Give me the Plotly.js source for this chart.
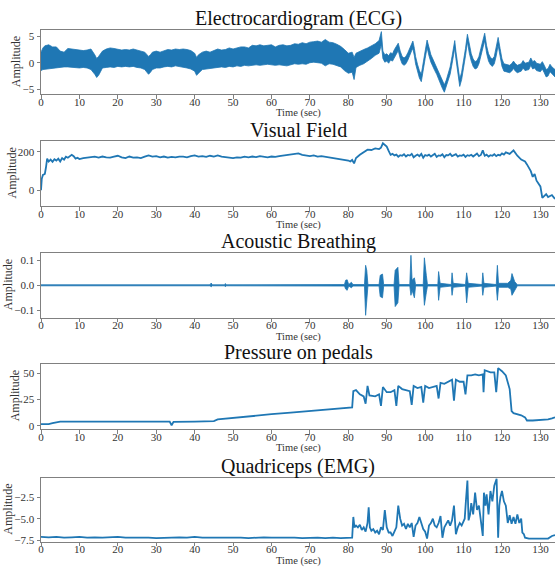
<!DOCTYPE html>
<html>
<head>
<meta charset="utf-8">
<script src="https://cdn.plot.ly/plotly-3.0.1.min.js"></script>
<style>html,body{margin:0;padding:0;background:#fff;}#chart{width:555px;height:567px;}</style>
</head>
<body>
<div id="chart"></div>
<script>
// ---------- DATA ----------
const panelTitles = ["Electrocardiogram (ECG)", "Visual Field", "Acoustic Breathing", "Pressure on pedals", "Quadriceps (EMG)"];
const xLabel = "Time (sec)";
const yLabel = "Amplitude";
const xTickVals = [0,10,20,30,40,50,60,70,80,90,100,110,120,130];

// ECG: upper / lower envelope of the dense trace
const ecgT  = [0,0.5,1,2,3,4,5,6,7,8,9,10,11,12,13,14,14.5,15,16,17,18,19,20,21,22,23,24,25,26,27,28,28.5,29,30,31,32,33,34,35,36,37,38,39,40,40.5,41,42,43,44,45,46,47,48,49,50,51,52,53,54,55,56,57,58,59,60,61,62,63,64,65,66,67,68,69,70,71,72,73,74,75,76,77,78,79,80,81,81.5,82,83,84,85,86,87,88,88.6,89,89.5,90,90.5,91,91.5,92,92.5,93,93.5,94,94.5,95,95.5,96,96.5,96.8,97.2,97.5,98,98.5,99,99.5,100,100.5,101,101.5,102,102.5,103,103.5,104,104.5,105,105.5,106,106.5,107,107.5,107.7,108,108.5,109,109.5,110,110.5,111,111.5,112,112.5,113,113.5,114,114.5,115,115.5,116,116.5,117,117.5,118,118.5,119,119.5,120,120.5,121,122,122.5,123,123.5,124,125,125.5,126,127,127.5,128,128.5,129,130,130.5,131,131.5,132,132.5,133,133.8];
const ecgHi = [2.0,2.8,3.2,3.4,3.0,3.0,2.2,2.0,2.7,2.6,2.5,2.3,2.3,2.4,2.6,1.5,0.8,1.2,2.2,2.6,2.8,2.7,2.5,2.4,2.5,2.4,2.6,2.4,2.2,2.0,1.2,1.5,2.0,2.2,2.0,2.3,2.5,2.4,2.6,2.5,2.6,2.5,2.3,1.8,1.0,1.5,2.0,2.2,2.0,2.3,2.6,2.4,2.5,2.8,2.6,2.8,3.0,3.0,2.8,3.3,3.2,3.4,3.2,3.3,3.4,3.0,3.3,3.4,3.2,3.3,3.6,3.5,3.8,3.6,3.9,4.0,4.1,3.9,4.4,3.9,3.8,3.5,3.1,2.5,1.8,2.0,1.0,1.8,2.2,2.5,2.8,3.2,3.6,4.2,5.9,2.2,1.5,1.7,1.3,1.9,1.7,2.5,3.1,3.7,2.2,1.2,0.9,1.2,1.9,2.7,3.7,4.1,2.7,1.2,-0.3,-1.5,-2.2,-0.3,2.2,4.3,2.7,1.5,0.7,-0.1,-0.8,-1.6,-2.5,-3.5,-4.2,-3.3,-2.1,-0.8,1.2,3.2,4.2,2.2,-0.8,-3.1,-1.8,0.2,2.7,5.4,3.2,1.7,0.7,0.2,0.4,1.2,2.7,4.2,5.6,3.2,1.7,1.0,0.7,1.2,2.7,4.8,2.7,0.7,-0.2,-0.3,-0.5,-0.2,0.3,-0.2,-0.5,-0.2,0.4,-0.1,0.1,0.9,0.2,0.4,-0.1,-0.3,0.2,-0.5,-1.3,-1.1,-0.3,-0.8,-1.3];
const ecgLo = [-1.5,-1.3,-1.2,-1.1,-1.0,-1.0,-0.9,-0.8,-0.8,-0.9,-0.9,-1.0,-0.9,-1.0,-1.3,-2.2,-2.8,-2.4,-1.0,-0.9,-0.8,-0.9,-0.7,-0.8,-0.7,-0.8,-0.7,-0.9,-1.0,-1.3,-2.2,-1.8,-1.3,-1.0,-1.0,-0.8,-0.7,-0.8,-0.6,-0.8,-0.9,-1.0,-1.2,-1.6,-2.4,-2.0,-1.3,-1.2,-1.2,-1.0,-0.9,-0.8,-0.9,-0.7,-0.8,-0.6,-0.7,-0.5,-0.6,-0.5,-0.4,-0.5,-0.4,-0.3,-0.4,-0.5,-0.4,-0.5,-0.6,-0.4,-0.2,-0.3,-0.2,-0.3,0.0,0.1,0.0,-0.1,-0.6,-0.2,-0.3,-0.5,-0.8,-1.5,-2.0,-1.8,-3.2,-0.9,-0.5,-0.2,0.3,0.8,1.4,1.8,3.5,0.8,0.1,0.3,-0.1,0.5,0.3,1.1,1.7,2.3,0.8,-0.2,-0.5,-0.2,0.5,1.3,2.3,2.7,1.3,-0.2,-1.7,-2.9,-3.6,-1.7,0.8,2.9,1.3,0.1,-0.7,-1.5,-2.2,-3.0,-3.9,-4.9,-5.6,-4.7,-3.5,-2.2,-0.2,1.8,2.8,0.8,-2.2,-4.5,-3.2,-1.2,1.3,4.0,1.8,0.3,-0.7,-1.2,-1.0,-0.2,1.3,2.8,4.2,1.8,0.3,-0.4,-0.7,-0.2,1.3,3.3,1.3,-0.7,-1.6,-1.7,-1.9,-1.6,-1.1,-1.6,-1.9,-1.6,-1.0,-1.5,-1.3,-0.5,-1.2,-1.0,-1.5,-1.7,-1.2,-1.9,-2.7,-2.5,-1.7,-2.2,-2.7];

// Visual field
const vfT = [0,0.2,0.5,1,1.3,1.6,2,2.5,3,3.5,4,4.5,5,5.5,6,6.5,7,7.5,8,8.5,9,9.5,10,11,12,13,14,15,16,17,18,19,20,21,22,23,24,25,26,27,28,29,30,31,32,33,34,35,36,37,38,39,40,41,42,43,44,45,46,47,48,49,50,51,52,53,54,55,56,57,58,59,60,61,62,63,64,65,66,67,68,69,70,71,72,73,74,75,76,77,78,79,80,80.5,81,81.5,82,83,84,85,86,87,88,88.5,89,89.5,90,90.5,91,91.5,92,92.5,93,93.5,94,94.5,95,95.5,96,96.5,97,97.5,98,98.5,99,99.5,100,100.5,101,101.5,102,102.5,103,103.5,104,104.5,105,105.5,106,106.5,107,107.5,108,108.5,109,109.5,110,110.5,111,111.5,112,112.5,113,113.5,114,114.5,115,115.5,116,116.5,117,117.5,118,118.5,119,119.5,120,120.5,121,122,123,124,125,126,126.5,127,127.5,128,128.5,129,130,130.5,131,131.5,132,132.5,133,133.8];
const vfY = [0,60,80,85,120,165,150,160,148,162,155,165,150,168,160,175,170,180,185,178,165,170,163,168,170,172,175,170,176,172,170,175,180,172,168,176,170,172,168,175,182,176,178,172,176,170,174,172,176,175,172,178,182,176,178,174,180,176,182,175,172,170,168,172,170,175,172,176,173,178,175,172,176,174,178,180,182,185,188,192,185,183,178,182,176,178,175,172,168,166,162,158,155,150,158,140,168,185,200,212,210,218,215,222,245,238,228,205,185,190,182,186,175,183,180,188,176,184,181,190,172,180,186,178,190,170,184,180,186,176,183,190,174,182,180,188,172,184,182,190,178,185,188,176,182,180,186,174,183,180,185,176,182,192,178,184,208,180,186,176,183,180,188,178,185,182,192,186,198,190,208,180,160,150,135,120,100,70,85,50,20,-40,-30,-20,-35,-30,-25,-45,-70,-75,-75];

// Acoustic breathing: upper / lower envelope
const acT  = [0,44.0,44.3,44.6,47.8,48.0,48.2,79.0,79.3,79.7,80.1,80.8,81.2,84.2,84.5,84.8,85.1,88.0,88.3,88.9,89.2,91.9,92.2,92.9,93.2,96.0,96.3,96.6,97.2,97.5,99.5,99.8,100.3,100.6,103.3,103.5,103.9,106.8,107.0,107.3,110.5,110.8,111.2,114.8,115.0,115.3,118.5,118.8,119.1,121.5,122.3,122.6,123.3,124.0,133.8];
const acHi = [0.002,0.002,0.009,0.002,0.002,0.007,0.002,0.003,0.020,0.022,0.003,0.012,0.003,0.003,0.080,0.060,0.003,0.003,0.040,0.045,0.003,0.003,0.060,0.072,0.003,0.003,0.120,0.020,0.030,0.003,0.003,0.110,0.040,0.003,0.003,0.055,0.008,0.003,0.050,0.008,0.003,0.050,0.008,0.003,0.050,0.008,0.003,0.080,0.008,0.008,0.020,0.047,0.015,0.002,0.002];
const acLo = [-0.002,-0.002,-0.006,-0.002,-0.002,-0.006,-0.002,-0.003,-0.015,-0.020,-0.003,-0.010,-0.003,-0.003,-0.120,-0.060,-0.003,-0.003,-0.045,-0.050,-0.003,-0.003,-0.085,-0.070,-0.003,-0.003,-0.040,-0.020,-0.050,-0.003,-0.003,-0.080,-0.030,-0.003,-0.003,-0.060,-0.008,-0.003,-0.040,-0.008,-0.003,-0.070,-0.008,-0.003,-0.040,-0.008,-0.003,-0.060,-0.008,-0.008,-0.015,-0.040,-0.020,-0.002,-0.002];

// Pressure on pedals
const prT = [0,2,3,4,5,10,20,30,33.5,34,34.5,40,45,46,50,55,60,65,70,75,80,81,81.3,82,83,84,84.5,85,85.5,87,88,88.5,89,90,91,92,92.5,93,94,95,96,96.5,97,98,99,99.5,100,101,102,103,103.5,104,105,106,107,107.5,108,109,110,110.5,111,112,113,114,115,115.2,115.5,117,118,118.5,119,120,121,122,122.5,123,124,125,126,126.5,128,130,132,133,133.8];
const prY = [1.5,1.5,2.5,3.5,4,4,4,4,4,0.5,3.8,4,4.5,6,7.5,9.5,11,12.5,14,15.5,17,17.5,33,34,30,28,21,38,29,28,30,19,37,32,32,34,19,38,35,34,33,20,38,36,37,22,38,36,37,38,26,41,40,42,44,24,44,42,42,30,48,48,49,48,49,32,53,51,51,32,55,52,48,35,14,12,11,10,8,5,5,5.5,6,7,8];

// Quadriceps EMG
const emgT = [0,2,4,6,8,10,12,14,16,18,20,22,24,26,28,30,32,34,36,38,40,42,44,46,48,50,52,54,56,58,60,62,64,66,68,70,72,74,76,78,80,81,81.3,81.6,82,82.5,83,83.5,84,84.5,85,85.3,85.6,86,86.5,87,87.5,88,88.5,89,89.5,90,90.5,91,91.5,92,92.5,93,93.5,94,94.5,95,95.5,96,96.5,97,97.5,98,98.5,99,99.5,100,100.5,101,101.5,102,102.5,103,103.5,104,104.5,105,105.5,106,106.5,107,107.5,108,108.5,109,109.5,110,110.3,110.6,111,111.3,111.7,112,112.5,113,113.5,114,114.5,115,115.3,115.7,116,116.5,117,117.5,118,118.3,118.6,119,119.3,119.6,120,120.5,121,121.5,122,122.5,123,123.5,124,124.5,125,125.3,125.7,126,127,128,129,130,131,132,133,133.8];
const emgY = [-7.1,-7.15,-7.1,-7.2,-7.15,-7.1,-7.2,-7.15,-7.2,-7.15,-7.1,-7.2,-7.2,-7.15,-7.2,-7.25,-7.2,-7.2,-7.15,-7.2,-7.1,-7.2,-7.2,-7.15,-7.2,-7.15,-7.2,-7.25,-7.2,-7.15,-7.2,-7.2,-7.15,-7.2,-7.25,-7.2,-7.2,-7.25,-7.2,-7.25,-7.2,-7.2,-4.8,-6.0,-5.8,-6.0,-5.7,-6.3,-6.0,-6.5,-5.5,-3.7,-6.0,-6.4,-6.2,-6.6,-6.4,-6.8,-6.0,-6.3,-4.0,-6.0,-6.6,-6.6,-7.0,-6.5,-6.0,-3.5,-5.0,-5.8,-5.6,-6.2,-5.6,-6.0,-5.5,-7.1,-5.8,-5.5,-4.8,-5.5,-6.2,-6.5,-7.3,-5.8,-5.5,-5.0,-5.8,-6.0,-5.5,-4.7,-7.2,-6.0,-5.5,-5.2,-5.8,-5.2,-3.5,-6.8,-6.0,-5.5,-5.8,-5.2,-5.0,-3.0,-0.6,-5.2,-4.5,-3.2,-4.5,-2.0,-4.0,-3.5,-5.5,-7.0,-2.0,-3.5,-2.2,-4.5,-1.8,-3.0,-1.2,-0.6,-0.4,-7.2,-3.5,-2.5,-1.8,-3.0,-3.5,-5.5,-4.6,-5.6,-4.8,-5.6,-4.5,-5.5,-5.0,-6.6,-6.8,-7.2,-7.3,-7.3,-7.3,-7.35,-7.3,-7.3,-7.0,-6.9];

// y-axis ticks per panel
const yTickVals = [[-5,0,5],[0,200],[-0.1,0,0.1],[0,25,50],[-7.5,-5,-2.5]];
const yTickText = [["\u22125","0","5"],["0","200"],["\u22120.1","0.0","0.1"],["0","25","50"],["\u22127.5","\u22125.0","\u22122.5"]];
const yRanges = [[-5.94,6.15],[-82,257],[-0.1296,0.1305],[-3.1,59.2],[-7.66,-0.27]];

// ---------- CHART ----------
const W = 555, H = 567;
const C = '#1f77b4';
const FONT = "'Liberation Serif', 'DejaVu Serif', serif";
const TXT = '#333';
const panelPx = [[30.3,94],[141,206],[252.7,317.7],[363.7,429],[477.7,541.7]];
const yLabelX = [16, 11, 8, 15, 8];
const xDomain = [41/W, 1];
const xRange = [0, 133.8];

function band(t, hi, lo) {
  return { x: t.concat(t.slice().reverse()), y: hi.concat(lo.slice().reverse()) };
}
const ecgB = band(ecgT, ecgHi, ecgLo);
const acB = band(acT, acHi, acLo);

const traces = [
  {x: ecgB.x, y: ecgB.y, fill: 'toself', fillcolor: C, line: {color: C, width: 0.8}, mode: 'lines', xaxis: 'x', yaxis: 'y', hoverinfo: 'skip'},
  {x: vfT, y: vfY, mode: 'lines', line: {color: C, width: 1.8}, xaxis: 'x2', yaxis: 'y2'},
  {x: acB.x, y: acB.y, fill: 'toself', fillcolor: C, line: {color: C, width: 0.8}, mode: 'lines', xaxis: 'x3', yaxis: 'y3', hoverinfo: 'skip'},
  {x: prT, y: prY, mode: 'lines', line: {color: C, width: 1.8}, xaxis: 'x4', yaxis: 'y4'},
  {x: emgT, y: emgY, mode: 'lines', line: {color: C, width: 1.8}, xaxis: 'x5', yaxis: 'y5'}
];

const layout = {
  width: W, height: H,
  margin: {l: 0, r: 0, t: 0, b: 0},
  paper_bgcolor: '#fff', plot_bgcolor: '#fff',
  showlegend: false,
  font: {family: FONT, size: 11, color: TXT},
  annotations: []
};

for (let i = 0; i < 5; i++) {
  const s = i === 0 ? '' : String(i + 1);
  const top = panelPx[i][0], bot = panelPx[i][1];
  layout['xaxis' + s] = {
    domain: xDomain, range: xRange, anchor: 'y' + s,
    tickmode: 'array', tickvals: xTickVals,
    ticks: 'outside', ticklen: 3.5, tickwidth: 1, tickcolor: '#808080',
    ticklabelstandoff: -6,
    showline: true, linecolor: '#808080', linewidth: 1, mirror: true,
    showgrid: false, zeroline: false,
    tickfont: {family: FONT, size: 11, color: TXT}
  };
  layout['yaxis' + s] = {
    domain: [(H - bot) / H, (H - top) / H], range: yRanges[i], anchor: 'x' + s,
    tickmode: 'array', tickvals: yTickVals[i], ticktext: yTickText[i],
    ticks: 'outside', ticklen: 3.5, tickwidth: 1, tickcolor: '#808080',
    showline: true, linecolor: '#808080', linewidth: 1, mirror: true,
    showgrid: false, zeroline: false,
    tickfont: {family: FONT, size: 11, color: TXT}
  };
  // panel title
  layout.annotations.push({
    text: panelTitles[i], xref: 'paper', yref: 'paper',
    x: (xDomain[0] + xDomain[1]) / 2, y: (H - top) / H,
    xanchor: 'center', yanchor: 'bottom', yshift: -2, showarrow: false,
    font: {family: FONT, size: 20, color: '#111'}
  });
  // x-axis label
  layout.annotations.push({
    text: xLabel, xref: 'paper', yref: 'paper',
    x: (xDomain[0] + xDomain[1]) / 2, y: (H - bot - 19) / H,
    xanchor: 'center', yanchor: 'middle', showarrow: false,
    font: {family: FONT, size: 10.5, color: TXT}
  });
  // y-axis label
  layout.annotations.push({
    text: yLabel, xref: 'paper', yref: 'paper', textangle: -90,
    x: yLabelX[i] / W, y: (H - (top + bot) / 2) / H,
    xanchor: 'center', yanchor: 'middle', showarrow: false,
    font: {family: FONT, size: 12, color: TXT}
  });
}

Plotly.newPlot('chart', traces, layout, {displayModeBar: false, staticPlot: true});
</script>
</body>
</html>
